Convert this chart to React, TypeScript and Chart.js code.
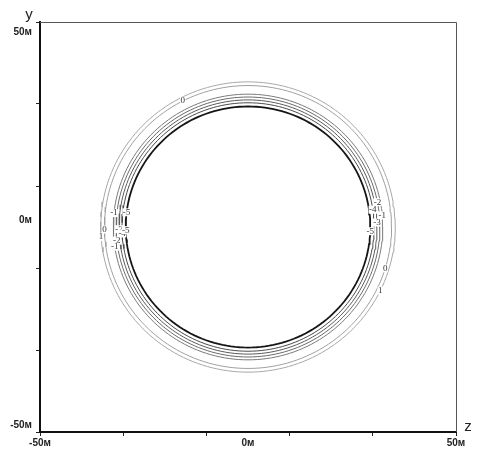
import { useEffect, useRef } from "react";
import { Chart, registerables } from "chart.js";

Chart.register(...registerables);

// contour levels and their radii (metres)
const levels = [1, 0, -1, -2, -3, -4, -5];
const radii = [35.4, 34.5, 32.4, 31.7, 31.0, 30.3, 29.4];
const lineColors = ["#a8a8a8", "#a0a0a0", "#7a7a7a", "#6a6a6a", "#5a5a5a", "#4a4a4a", "#151515"];
const lineWidths = [1, 1, 1, 1, 1, 1, 1.8];

// contour labels: level and angle (degrees) along the contour
const labelLevels = [0, 1, 0, -1, -3, -4, -2, -1, -5, -5, -2, -4, -1, -3, -5, 0, 1];
const labelAngles = [117, 184, 181, 174, 181, 183, 186, 188.5, 173, 181.5, 11, 8, 5, 2, 358, 343, 334];

// axis ticks
const tickValues = [-50, -30, -10, 0, 10, 30, 50];
const labelledTicks = [-50, 0, 50];
const unit = "м";

const SEGMENTS = 180;

function circlePoints(r: number) {
  const pts: { x: number; y: number }[] = [];
  for (let i = 0; i <= SEGMENTS; i++) {
    const a = (i / SEGMENTS) * Math.PI * 2;
    pts.push({ x: r * Math.cos(a), y: r * Math.sin(a) });
  }
  return pts;
}

const decorPlugin = {
  id: "decor",
  afterDatasetsDraw(chart: any) {
    const { ctx, chartArea, scales } = chart;
    const xs = scales.x;
    const ys = scales.y;
    ctx.save();
    // contour labels
    ctx.font = "9px 'Liberation Serif', serif";
    ctx.textAlign = "center";
    ctx.textBaseline = "middle";
    for (let i = 0; i < labelLevels.length; i++) {
      const idx = levels.indexOf(labelLevels[i]);
      const r = radii[idx];
      const a = (labelAngles[i] * Math.PI) / 180;
      const px = xs.getPixelForValue(r * Math.cos(a));
      const py = ys.getPixelForValue(r * Math.sin(a));
      const t = String(labelLevels[i]);
      const w = ctx.measureText(t).width;
      ctx.fillStyle = "#ffffff";
      ctx.fillRect(px - w / 2 - 0.5, py - 4, w + 1, 8);
      ctx.fillStyle = "#333333";
      ctx.fillText(t, px, py);
    }
    // y tick labels (placed slightly above their ticks, kept inside the frame)
    ctx.font = "bold 10px 'Liberation Sans', Arial, sans-serif";
    ctx.fillStyle = "#222";
    ctx.textAlign = "right";
    for (const v of labelledTicks) {
      let py = ys.getPixelForValue(v) - 7;
      py = Math.max(chartArea.top + 10, Math.min(chartArea.bottom - 6, py));
      ctx.fillText(`${v}${unit}`, chartArea.left - 8, py);
    }
    // frame top & right
    ctx.strokeStyle = "#555555";
    ctx.lineWidth = 1;
    ctx.beginPath();
    ctx.moveTo(chartArea.left, chartArea.top + 0.5);
    ctx.lineTo(chartArea.right + 0.5, chartArea.top + 0.5);
    ctx.lineTo(chartArea.right + 0.5, chartArea.bottom);
    ctx.stroke();
    // axis names
    ctx.fillStyle = "#222222";
    ctx.font = "15px 'Liberation Sans', Arial, sans-serif";
    ctx.textAlign = "center";
    ctx.textBaseline = "middle";
    ctx.fillText("y", chartArea.left - 11, chartArea.top - 7);
    ctx.fillText("z", chartArea.right + 12, chartArea.bottom - 5);
    ctx.restore();
  },
};

export default function App() {
  const ref = useRef<HTMLCanvasElement | null>(null);
  useEffect(() => {
    document.body.style.margin = "0";
    const canvas = ref.current!;
    const datasets = levels.map((lv, i) => ({
      label: String(lv),
      data: circlePoints(radii[i]),
      showLine: true,
      pointRadius: 0,
      borderColor: lineColors[i],
      borderWidth: lineWidths[i],
      fill: false,
      tension: 0,
    }));
    const tickFont = { family: "'Liberation Sans', Arial, sans-serif", size: 10, weight: "bold" as const };
    const gridOpts = {
      drawOnChartArea: false,
      drawTicks: true,
      tickLength: 4,
      color: (c: any) => (c.tick && c.tick.value === 0 ? "rgba(0,0,0,0)" : "#222"),
    };
    const chart = new Chart(canvas, {
      type: "scatter",
      data: { datasets },
      options: {
        animation: false,
        responsive: false,
        maintainAspectRatio: false,
        layout: { padding: { left: 0, top: 22, right: 24, bottom: 0 } },
        plugins: { legend: { display: false }, tooltip: { enabled: false } },
        scales: {
          x: {
            type: "linear",
            min: -50,
            max: 50,
            afterBuildTicks: (s: any) => {
              s.ticks = tickValues.map((v) => ({ value: v }));
            },
            afterFit: (s: any) => {
              s.height = 21;
            },
            ticks: {
              autoSkip: false,
              color: "#222",
              font: tickFont,
              maxRotation: 0,
              padding: 1,
              callback: (v: any) => (labelledTicks.includes(Number(v)) ? `${v}${unit}` : ""),
            },
            grid: gridOpts,
            border: { display: true, color: "#111", width: 2 },
          },
          y: {
            type: "linear",
            min: -50,
            max: 50,
            afterBuildTicks: (s: any) => {
              s.ticks = tickValues.map((v) => ({ value: v }));
            },
            afterFit: (s: any) => {
              s.width = 40;
            },
            ticks: { autoSkip: false, font: tickFont, callback: () => "" },
            grid: gridOpts,
            border: { display: true, color: "#111", width: 2 },
          },
        },
      },
      plugins: [decorPlugin],
    });
    return () => chart.destroy();
  }, []);
  return <canvas ref={ref} width={480} height={453} style={{ display: "block" }} />;
}
